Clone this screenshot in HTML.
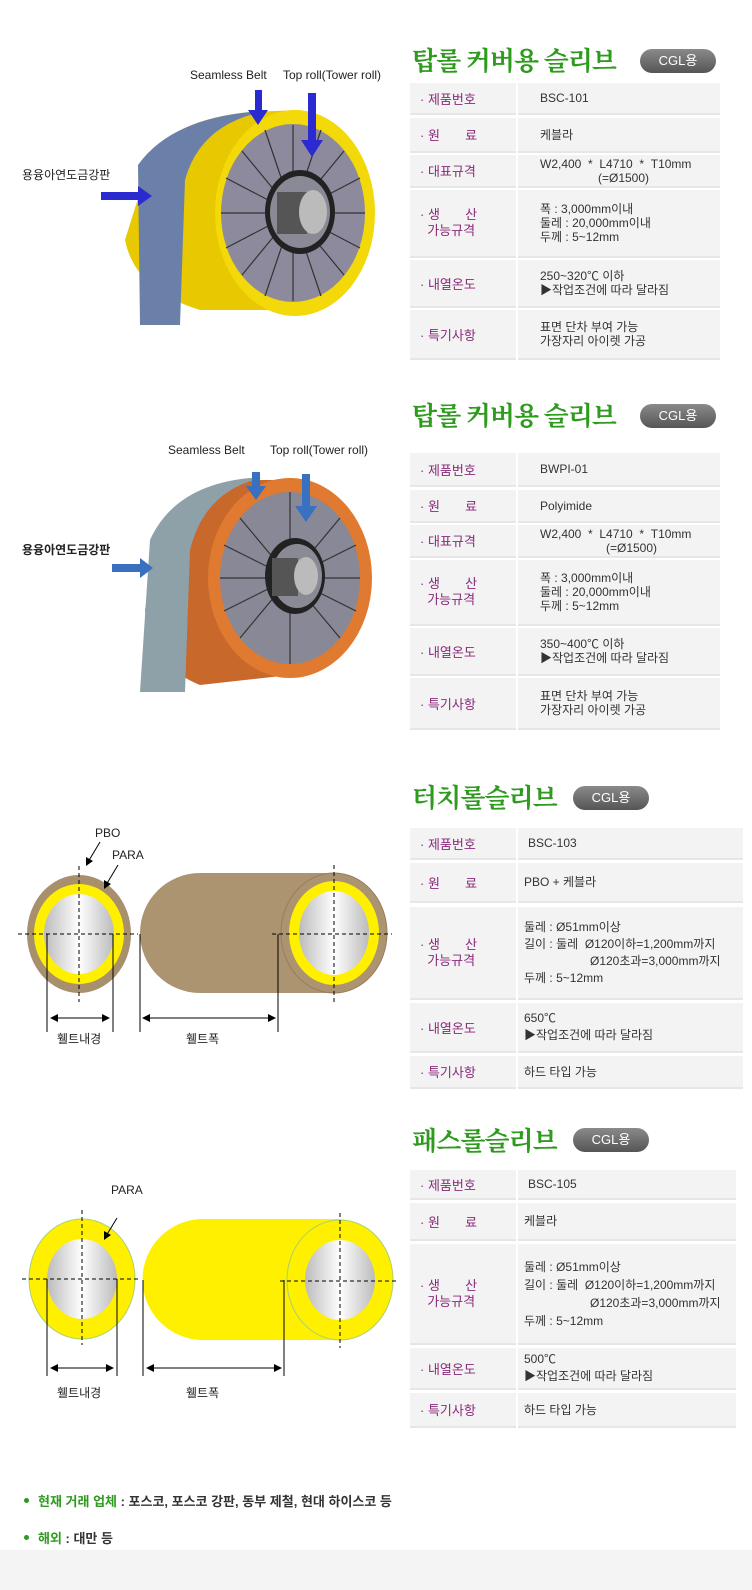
<!DOCTYPE html>
<html><head><meta charset="utf-8"><style>
*{margin:0;padding:0;box-sizing:border-box}
body{width:752px;height:1590px;position:relative;background:#fff;font-family:"Liberation Sans","Noto Sans CJK KR",sans-serif;overflow:hidden}
.a{position:absolute}
.t{position:absolute;font-family:"Noto Serif CJK SC","Noto Sans CJK KR",serif;color:#2e9a1e;font-size:26px;font-weight:bold;letter-spacing:-1px;line-height:1;white-space:nowrap}
.pill{position:absolute;width:76px;height:24px;border-radius:12px;background:linear-gradient(#8a8a8a,#555);color:#fff;font-size:13px;text-align:center;line-height:24px}
.l{position:absolute;background:#f3f3f3;color:#8a2a7a;font-size:13px;display:flex;align-items:center;padding-left:10px;border-bottom:2px solid #e6e6e6}
.r{position:absolute;background:#f3f3f3;color:#333;font-size:12px;display:flex;flex-direction:column;justify-content:center;padding-left:22px;line-height:14px;border-bottom:2px solid #e6e6e6}
.lab{position:absolute;font-size:12px;color:#222}
</style></head><body>

<!-- Section 1 -->
<div class="t" style="left:412px;top:47px">탑롤 커버용 슬리브</div>
<div class="pill" style="left:640px;top:49px">CGL용</div>
<div class="l" style="left:410px;top:83px;width:106px;height:32px">· 제품번호</div>
<div class="r" style="left:518px;top:83px;width:202px;height:32px">BSC-101</div>
<div class="l" style="left:410px;top:118px;width:106px;height:35px">· 원&nbsp;&nbsp;&nbsp;&nbsp;&nbsp;&nbsp;&nbsp;료</div>
<div class="r" style="left:518px;top:118px;width:202px;height:35px">케블라</div>
<div class="l" style="left:410px;top:155px;width:106px;height:33px">· 대표규격</div>
<div class="r" style="left:518px;top:155px;width:202px;height:33px"><span>W2,400 &nbsp;* &nbsp;L4710 &nbsp;* &nbsp;T10mm</span><span style="padding-left:58px">(=Ø1500)</span></div>
<div class="l" style="left:410px;top:190px;width:106px;height:68px;line-height:16px">· 생&nbsp;&nbsp;&nbsp;&nbsp;&nbsp;&nbsp;&nbsp;산<br>&nbsp;&nbsp;가능규격</div>
<div class="r" style="left:518px;top:190px;width:202px;height:68px"><span>폭 : 3,000mm이내</span><span>둘레 : 20,000mm이내</span><span>두께 : 5~12mm</span></div>
<div class="l" style="left:410px;top:260px;width:106px;height:48px">· 내열온도</div>
<div class="r" style="left:518px;top:260px;width:202px;height:48px"><span>250~320℃ 이하</span><span>▶작업조건에 따라 달라짐</span></div>
<div class="l" style="left:410px;top:310px;width:106px;height:50px">· 특기사항</div>
<div class="r" style="left:518px;top:310px;width:202px;height:50px"><span>표면 단차 부여 가능</span><span>가장자리 아이렛 가공</span></div>

<svg class="a" style="left:0;top:60px" width="400" height="280">
<path d="M150 100 Q170 60 250 52 L300 50 L300 250 L200 250 Q135 230 125 180 Z" fill="#e8c800"/>
<ellipse cx="295" cy="153" rx="80" ry="103" fill="#f3d80a"/>
<ellipse cx="293" cy="153" rx="72" ry="89" fill="#8c8a9c"/>
<g stroke="#333" stroke-width="1.2">
<line x1="293" y1="153" x2="293" y2="65"/><line x1="293" y1="153" x2="365" y2="153"/><line x1="293" y1="153" x2="221" y2="153"/><line x1="293" y1="153" x2="293" y2="241"/>
<line x1="293" y1="153" x2="344" y2="91"/><line x1="293" y1="153" x2="242" y2="91"/><line x1="293" y1="153" x2="344" y2="215"/><line x1="293" y1="153" x2="242" y2="215"/>
<line x1="293" y1="153" x2="321" y2="70"/><line x1="293" y1="153" x2="265" y2="70"/><line x1="293" y1="153" x2="321" y2="236"/><line x1="293" y1="153" x2="265" y2="236"/>
<line x1="293" y1="153" x2="360" y2="118"/><line x1="293" y1="153" x2="226" y2="118"/><line x1="293" y1="153" x2="360" y2="188"/><line x1="293" y1="153" x2="226" y2="188"/>
</g>
<ellipse cx="300" cy="152" rx="35" ry="42" fill="#222"/>
<ellipse cx="300" cy="152" rx="30" ry="36" fill="#8a8a96"/>
<rect x="277" y="132" width="30" height="42" fill="#555"/>
<ellipse cx="313" cy="152" rx="14" ry="22" fill="#bbb"/>
<path d="M138 105 Q170 60 250 52 L262 52 Q200 65 185 120 L180 265 L140 265 Z" fill="#6a80a8"/>
<polygon points="255,30 262,30 262,50 268,50 258,65 248,50 255,50" fill="#2a2ad0"/>
<polygon points="308,33 316,33 316,80 323,80 312,97 301,80 308,80" fill="#2a2ad0"/>
<polygon points="101,132 138,132 138,126 152,136 138,146 138,140 101,140" fill="#2a2ad0"/>
</svg>
<div class="lab" style="left:190px;top:68px">Seamless Belt</div>
<div class="lab" style="left:283px;top:68px">Top roll(Tower roll)</div>
<div class="lab" style="left:22px;top:166px">용융아연도금강판</div>

<!-- Section 2 -->
<div class="t" style="left:412px;top:402px">탑롤 커버용 슬리브</div>
<div class="pill" style="left:640px;top:404px">CGL용</div>
<div class="l" style="left:410px;top:453px;width:106px;height:34px">· 제품번호</div>
<div class="r" style="left:518px;top:453px;width:202px;height:34px">BWPI-01</div>
<div class="l" style="left:410px;top:490px;width:106px;height:33px">· 원&nbsp;&nbsp;&nbsp;&nbsp;&nbsp;&nbsp;&nbsp;료</div>
<div class="r" style="left:518px;top:490px;width:202px;height:33px">Polyimide</div>
<div class="l" style="left:410px;top:525px;width:106px;height:33px">· 대표규격</div>
<div class="r" style="left:518px;top:525px;width:202px;height:33px"><span>W2,400 &nbsp;* &nbsp;L4710 &nbsp;* &nbsp;T10mm</span><span style="padding-left:66px">(=Ø1500)</span></div>
<div class="l" style="left:410px;top:560px;width:106px;height:66px;line-height:16px">· 생&nbsp;&nbsp;&nbsp;&nbsp;&nbsp;&nbsp;&nbsp;산<br>&nbsp;&nbsp;가능규격</div>
<div class="r" style="left:518px;top:560px;width:202px;height:66px"><span>폭 : 3,000mm이내</span><span>둘레 : 20,000mm이내</span><span>두께 : 5~12mm</span></div>
<div class="l" style="left:410px;top:628px;width:106px;height:48px">· 내열온도</div>
<div class="r" style="left:518px;top:628px;width:202px;height:48px"><span>350~400℃ 이하</span><span>▶작업조건에 따라 달라짐</span></div>
<div class="l" style="left:410px;top:678px;width:106px;height:52px">· 특기사항</div>
<div class="r" style="left:518px;top:678px;width:202px;height:52px"><span>표면 단차 부여 가능</span><span>가장자리 아이렛 가공</span></div>

<svg class="a" style="left:0;top:460px" width="400" height="240">
<path d="M160 70 Q180 25 260 20 L290 20 L290 215 L200 225 Q150 205 145 150 Z" fill="#c8682a"/>
<ellipse cx="290" cy="118" rx="82" ry="100" fill="#e07a30"/>
<ellipse cx="290" cy="118" rx="70" ry="86" fill="#888896"/>
<g stroke="#333" stroke-width="1.2">
<line x1="290" y1="118" x2="290" y2="32"/><line x1="290" y1="118" x2="360" y2="118"/><line x1="290" y1="118" x2="220" y2="118"/><line x1="290" y1="118" x2="290" y2="204"/>
<line x1="290" y1="118" x2="340" y2="58"/><line x1="290" y1="118" x2="240" y2="58"/><line x1="290" y1="118" x2="340" y2="178"/><line x1="290" y1="118" x2="240" y2="178"/>
<line x1="290" y1="118" x2="356" y2="85"/><line x1="290" y1="118" x2="224" y2="85"/><line x1="290" y1="118" x2="356" y2="151"/><line x1="290" y1="118" x2="224" y2="151"/>
</g>
<ellipse cx="295" cy="116" rx="30" ry="38" fill="#222"/>
<ellipse cx="297" cy="116" rx="25" ry="32" fill="#8a8a96"/>
<rect x="272" y="98" width="26" height="38" fill="#555"/>
<ellipse cx="306" cy="116" rx="12" ry="19" fill="#bbb"/>
<path d="M150 80 Q175 25 250 18 L262 18 Q205 30 190 90 L185 232 L140 232 Z" fill="#8ea0a8"/>
<polygon points="252,12 260,12 260,26 266,26 256,40 246,26 252,26" fill="#3a70c0"/>
<polygon points="302,14 310,14 310,46 317,46 306,62 295,46 302,46" fill="#3a70c0"/>
<polygon points="112,104 140,104 140,98 153,108 140,118 140,112 112,112" fill="#3a70c0"/>
</svg>
<div class="lab" style="left:168px;top:443px">Seamless Belt</div>
<div class="lab" style="left:270px;top:443px">Top roll(Tower roll)</div>
<div class="lab" style="left:22px;top:541px;font-weight:bold">용융아연도금강판</div>

<!-- Section 3 -->
<div class="t" style="left:412px;top:784px">터치롤슬리브</div>
<div class="pill" style="left:573px;top:786px">CGL용</div>
<div class="l" style="left:410px;top:828px;width:106px;height:32px">· 제품번호</div>
<div class="r" style="left:518px;top:828px;width:225px;height:32px;padding-left:10px">BSC-103</div>
<div class="l" style="left:410px;top:863px;width:106px;height:40px">· 원&nbsp;&nbsp;&nbsp;&nbsp;&nbsp;&nbsp;&nbsp;료</div>
<div class="r" style="left:518px;top:863px;width:225px;height:40px;padding-left:6px">PBO + 케블라</div>
<div class="l" style="left:410px;top:907px;width:106px;height:93px;line-height:16px">· 생&nbsp;&nbsp;&nbsp;&nbsp;&nbsp;&nbsp;&nbsp;산<br>&nbsp;&nbsp;가능규격</div>
<div class="r" style="left:518px;top:907px;width:225px;height:93px;padding-left:6px;line-height:17px"><span>둘레 : Ø51mm이상</span><span>길이 : 둘레 &nbsp;Ø120이하=1,200mm까지</span><span style="padding-left:66px">Ø120초과=3,000mm까지</span><span>두께 : 5~12mm</span></div>
<div class="l" style="left:410px;top:1003px;width:106px;height:50px">· 내열온도</div>
<div class="r" style="left:518px;top:1003px;width:225px;height:50px;padding-left:6px;line-height:17px"><span>650℃</span><span>▶작업조건에 따라 달라짐</span></div>
<div class="l" style="left:410px;top:1056px;width:106px;height:33px">· 특기사항</div>
<div class="r" style="left:518px;top:1056px;width:225px;height:33px;padding-left:6px">하드 타입 가능</div>

<svg class="a" style="left:0;top:800px" width="400" height="260">
<defs><linearGradient id="g" x1="0" x2="1"><stop offset="0" stop-color="#bbb"/><stop offset=".5" stop-color="#fff"/><stop offset="1" stop-color="#bbb"/></linearGradient></defs>
<ellipse cx="79" cy="134" rx="52" ry="59" fill="#a8906c"/>
<ellipse cx="79" cy="134" rx="45" ry="50" fill="#fff000"/>
<ellipse cx="79" cy="134" rx="35" ry="40" fill="url(#g)"/>
<path d="M200 73 L334 73 L334 193 L200 193 A60 60 0 0 1 200 73 Z" fill="#ac9470"/>
<ellipse cx="334" cy="133" rx="53" ry="60" fill="#ac9470" stroke="#9a7c5a"/>
<ellipse cx="334" cy="133" rx="45" ry="52" fill="#fff000"/>
<ellipse cx="334" cy="133" rx="35" ry="42" fill="url(#g)"/>
<g stroke="#000" stroke-dasharray="4,3" fill="none">
<line x1="18" y1="134" x2="138" y2="134"/><line x1="79" y1="66" x2="79" y2="202"/>
<line x1="272" y1="134" x2="392" y2="134"/><line x1="334" y1="65" x2="334" y2="202"/>
</g>
<g stroke="#000">
<line x1="47" y1="134" x2="47" y2="232"/><line x1="113" y1="134" x2="113" y2="232"/>
<line x1="140" y1="134" x2="140" y2="232"/><line x1="278" y1="134" x2="278" y2="232"/>
<line x1="52" y1="218" x2="108" y2="218"/><line x1="145" y1="218" x2="273" y2="218"/>
<line x1="100" y1="42" x2="88" y2="62"/><line x1="118" y1="65" x2="106" y2="85"/>
</g>
<g fill="#000"><polygon points="50,218 58,214 58,222"/><polygon points="110,218 102,214 102,222"/><polygon points="142,218 150,214 150,222"/><polygon points="276,218 268,214 268,222"/><polygon points="86,66 86,57 93,61"/><polygon points="104,89 104,80 111,84"/></g>
</svg>
<div class="lab" style="left:95px;top:826px">PBO</div>
<div class="lab" style="left:112px;top:848px">PARA</div>
<div class="lab" style="left:57px;top:1030px">휄트내경</div>
<div class="lab" style="left:186px;top:1030px">휄트폭</div>

<!-- Section 4 -->
<div class="t" style="left:412px;top:1127px">패스롤슬리브</div>
<div class="pill" style="left:573px;top:1128px">CGL용</div>
<div class="l" style="left:410px;top:1170px;width:106px;height:30px">· 제품번호</div>
<div class="r" style="left:518px;top:1170px;width:218px;height:30px;padding-left:10px">BSC-105</div>
<div class="l" style="left:410px;top:1203px;width:106px;height:38px">· 원&nbsp;&nbsp;&nbsp;&nbsp;&nbsp;&nbsp;&nbsp;료</div>
<div class="r" style="left:518px;top:1203px;width:218px;height:38px;padding-left:6px">케블라</div>
<div class="l" style="left:410px;top:1244px;width:106px;height:101px;line-height:16px">· 생&nbsp;&nbsp;&nbsp;&nbsp;&nbsp;&nbsp;&nbsp;산<br>&nbsp;&nbsp;가능규격</div>
<div class="r" style="left:518px;top:1244px;width:218px;height:101px;padding-left:6px;line-height:18px"><span>둘레 : Ø51mm이상</span><span>길이 : 둘레 &nbsp;Ø120이하=1,200mm까지</span><span style="padding-left:66px">Ø120초과=3,000mm까지</span><span>두께 : 5~12mm</span></div>
<div class="l" style="left:410px;top:1348px;width:106px;height:42px">· 내열온도</div>
<div class="r" style="left:518px;top:1348px;width:218px;height:42px;padding-left:6px;line-height:17px"><span>500℃</span><span>▶작업조건에 따라 달라짐</span></div>
<div class="l" style="left:410px;top:1393px;width:106px;height:35px">· 특기사항</div>
<div class="r" style="left:518px;top:1393px;width:218px;height:35px;padding-left:6px">하드 타입 가능</div>

<svg class="a" style="left:0;top:1150px" width="400" height="240">
<ellipse cx="82" cy="129" rx="53" ry="60" fill="#fff000" stroke="#a8d070"/>
<ellipse cx="82" cy="129" rx="35" ry="40" fill="url(#g)"/>
<path d="M203 69 L340 69 L340 190 L203 190 A60 60 0 0 1 203 69 Z" fill="#fff000"/>
<ellipse cx="340" cy="130" rx="53" ry="60" fill="#fff000" stroke="#a8d070"/>
<ellipse cx="340" cy="130" rx="35" ry="40" fill="url(#g)"/>
<g stroke="#000" stroke-dasharray="4,3" fill="none">
<line x1="22" y1="129" x2="138" y2="129"/><line x1="82" y1="60" x2="82" y2="195"/>
<line x1="280" y1="131" x2="398" y2="131"/><line x1="340" y1="63" x2="340" y2="198"/>
</g>
<g stroke="#000">
<line x1="47" y1="129" x2="47" y2="226"/><line x1="117" y1="129" x2="117" y2="226"/>
<line x1="143" y1="130" x2="143" y2="226"/><line x1="284" y1="130" x2="284" y2="226"/>
<line x1="52" y1="218" x2="112" y2="218"/><line x1="148" y1="218" x2="279" y2="218"/>
<line x1="117" y1="68" x2="106" y2="86"/>
</g>
<g fill="#000"><polygon points="50,218 58,214 58,222"/><polygon points="114,218 106,214 106,222"/><polygon points="146,218 154,214 154,222"/><polygon points="282,218 274,214 274,222"/><polygon points="104,90 104,81 111,85"/></g>
</svg>
<div class="lab" style="left:111px;top:1183px">PARA</div>
<div class="lab" style="left:57px;top:1384px">휄트내경</div>
<div class="lab" style="left:186px;top:1384px">휄트폭</div>

<!-- footer -->
<div class="a" style="left:0;top:1550px;width:752px;height:40px;background:#f4f4f4"></div>
<div class="a" style="left:24px;top:1498px;width:5px;height:5px;border-radius:50%;background:#2a9a1e"></div>
<div class="a" style="left:38px;top:1491px;font-size:13px;font-weight:bold;color:#333"><span style="color:#2e9a1e">현재 거래 업체</span> : 포스코, 포스코 강판, 동부 제철, 현대 하이스코 등</div>
<div class="a" style="left:24px;top:1535px;width:5px;height:5px;border-radius:50%;background:#2a9a1e"></div>
<div class="a" style="left:38px;top:1528px;font-size:13px;font-weight:bold;color:#333"><span style="color:#2e9a1e">해외</span> : 대만 등</div>
</body></html>
